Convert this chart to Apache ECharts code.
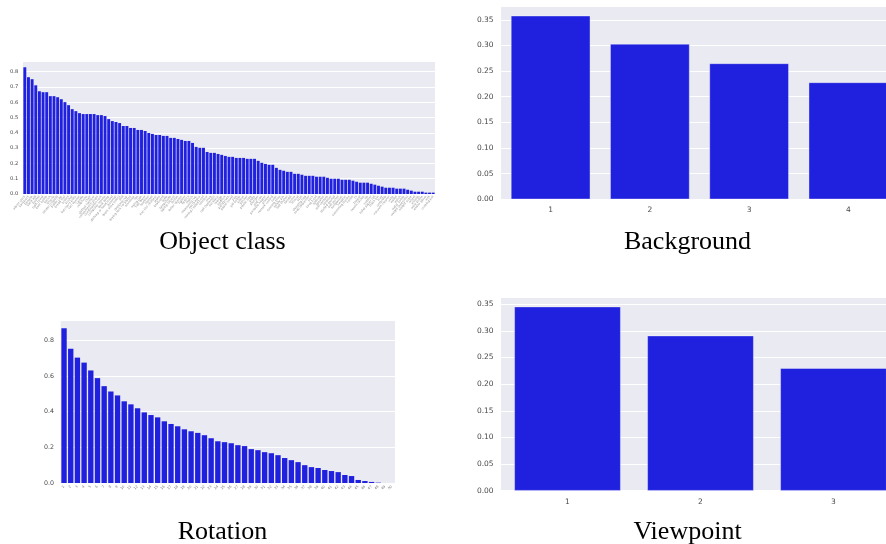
<!DOCTYPE html>
<html>
<head>
<meta charset="UTF-8" />
<title>ObjectNet controls</title>
<style type="text/css">
body,html{margin:0;padding:0;border:0;width:100%;height:100%;overflow:hidden;background:#fff;}
</style>
<script src="https://cdn.jsdelivr.net/npm/echarts@6/dist/echarts.min.js"></script>
</head>
<body>
<!-- wider than the window on purpose: the right-hand panels run off the edge in the original -->
<div id="chartContainer" style="width:920px;height:544px;"></div>
<script type="text/javascript">
// object classes, sorted by value (labels are too small to read in the original)
var classNames = ['alarm clock','backpack','banana','band aid','basket','bath towel','beer bottle','bench','bicycle','binder (closed)',
	'bottle cap','bread loaf','broom','bucket','butcher\'s knife','can opener','candle','cellphone','chair','clothes hamper',
	'coffee/french press','combination lock','computer mouse','desk lamp','dishrag or hand towel','doormat','dress shoe (men)','drill','drinking cup','drying rack for plates',
	'envelope','fan','frying pan','hair dryer','hammer','helmet','iron (for clothes)','jeans','keyboard','ladle',
	'lampshade','laptop (open)','lemon','letter opener','lighter','lipstick','match','measuring cup','microwave','mixing / salad bowl',
	'monitor','mug','nail (fastener)','necklace','orange','padlock','paintbrush','paper towel','pen','pill bottle',
	'pillow','pitcher','plastic bag','plate','plunger','pop can','portable heater','printer','remote control','ruler',
	'running shoe','safety pin','salt shaker','sandal','screw','shovel','skirt','sleeping bag','soap dispenser','sock',
	'soup bowl','spatula','speaker','still camera','strainer','stuffed animal','suit jacket','sunglasses','sweater','swimming trunks',
	't-shirt','tv','teapot','tennis racket','tie','toaster','toilet paper roll','trash bin','tray','umbrella',
	'vacuum cleaner','vase','wallet','watch','water bottle','weight (exercise)','weight scale','wheel','whistle','wine bottle',
	'winter glove','wok','cooking pot'];
var classValues = [0.829,0.764,0.751,0.711,0.672,0.666,0.666,0.640,0.640,0.633,
	0.620,0.601,0.581,0.555,0.542,0.529,0.523,0.523,0.523,0.523,
	0.516,0.516,0.510,0.490,0.477,0.471,0.464,0.445,0.445,0.432,
	0.432,0.419,0.419,0.412,0.399,0.393,0.386,0.386,0.380,0.380,
	0.367,0.367,0.360,0.354,0.347,0.347,0.334,0.308,0.302,0.302,
	0.275,0.269,0.269,0.262,0.256,0.249,0.243,0.243,0.236,0.236,
	0.236,0.230,0.230,0.230,0.217,0.204,0.197,0.191,0.191,0.171,
	0.158,0.152,0.145,0.145,0.132,0.132,0.126,0.119,0.119,0.119,
	0.113,0.113,0.113,0.106,0.100,0.100,0.100,0.093,0.093,0.093,
	0.087,0.080,0.074,0.074,0.074,0.067,0.061,0.054,0.048,0.041,
	0.041,0.041,0.035,0.035,0.035,0.028,0.022,0.015,0.015,0.015,
	0.009,0.009,0.009];

var bgLabels = ['1','2','3','4'];
var bgValues = [0.358,0.303,0.265,0.228];

var rotLabels = ['1','2','3','4','5','6','7','8','9','10',
	'11','12','13','14','15','16','17','18','19','20',
	'21','22','23','24','25','26','27','28','29','30',
	'31','32','33','34','35','36','37','38','39','40',
	'41','42','43','44','45','46','47','48','49','50'];
var rotValues = [0.867,0.753,0.703,0.675,0.631,0.588,0.543,0.513,0.491,0.458,
	0.441,0.419,0.396,0.381,0.368,0.346,0.331,0.318,0.301,0.290,
	0.281,0.268,0.251,0.234,0.229,0.223,0.212,0.207,0.190,0.184,
	0.173,0.167,0.156,0.140,0.128,0.117,0.100,0.089,0.084,0.073,
	0.067,0.061,0.045,0.039,0.017,0.011,0.006,0.002,0,0];

var vpLabels = ['1','2','3'];
var vpValues = [0.3455,0.291,0.230];

var titles = ['Object class','Background','Rotation','Viewpoint'];

var BAR = '#2020DF', PANEL = '#EAEAF2', TICK = '#4a4a4a';

function yAxis(idx, max, step, digits, size, margin)
{
	return {
		type: 'value', gridIndex: idx, min: 0, max: max, interval: step,
		axisLine: { show: false }, axisTick: { show: false },
		splitLine: { show: true, lineStyle: { color: '#fff', width: 1 } },
		axisLabel: {
			fontSize: size, color: TICK, margin: margin, fontFamily: 'DejaVu Sans',
			showMaxLabel: false,
			formatter: function (v) { return v.toFixed(digits); }
		}
	};
}

function xAxis(idx, data, size, margin, rotate, color)
{
	return {
		type: 'category', gridIndex: idx, data: data,
		axisLine: { show: false }, axisTick: { show: false },
		axisLabel: { interval: 0, fontSize: size, color: color || TICK, margin: margin, rotate: rotate, fontFamily: 'DejaVu Sans' }
	};
}

function barSeries(idx, data, border)
{
	return {
		type: 'bar', xAxisIndex: idx, yAxisIndex: idx, data: data,
		barCategoryGap: '20%', silent: true,
		itemStyle: { color: BAR, borderColor: border ? 'rgba(255,255,255,0.6)' : BAR, borderWidth: border ? 0.6 : 0 }
	};
}

function titleText(text, x, y)
{
	return {
		type: 'text', x: x, y: y, silent: true,
		style: { text: text, fontSize: 26, fontFamily: 'Liberation Serif', fill: '#000', align: 'center', verticalAlign: 'middle' }
	};
}

var chart = echarts.init(document.getElementById('chartContainer'), null, { renderer: 'canvas' });
chart.setOption({
	animation: false,
	backgroundColor: '#fff',
	grid: [
		{ left: 23, top: 61, width: 412, height: 133, show: true, backgroundColor: PANEL, borderWidth: 0 },
		{ left: 501, top: 6.5, width: 397, height: 192.8, show: true, backgroundColor: PANEL, borderWidth: 0 },
		{ left: 60.7, top: 320.7, width: 334.3, height: 162.3, show: true, backgroundColor: PANEL, borderWidth: 0 },
		{ left: 501, top: 297.3, width: 399, height: 193.4, show: true, backgroundColor: PANEL, borderWidth: 0 }
	],
	xAxis: [
		xAxis(0, classNames, 3, 2, 50, '#8a8a8a'),
		xAxis(1, bgLabels, 7.5, 7, 0),
		xAxis(2, rotLabels, 3.5, 3, 45, '#777'),
		xAxis(3, vpLabels, 7.5, 7, 0)
	],
	yAxis: [
		yAxis(0, 0.87, 0.1, 1, 5.2, 4.7),
		yAxis(1, 0.376, 0.05, 2, 7.5, 7.4),
		yAxis(2, 0.91, 0.2, 1, 6.3, 6.7),
		yAxis(3, 0.363, 0.05, 2, 7.5, 7.4)
	],
	series: [
		barSeries(0, classValues, false),
		barSeries(1, bgValues, true),
		barSeries(2, rotValues, false),
		barSeries(3, vpValues, true)
	],
	graphic: [
		titleText(titles[0], 222.5, 242),
		titleText(titles[1], 687.5, 242),
		titleText(titles[2], 222.5, 532),
		titleText(titles[3], 687.5, 532)
	]
});
</script>
</body>
</html>
